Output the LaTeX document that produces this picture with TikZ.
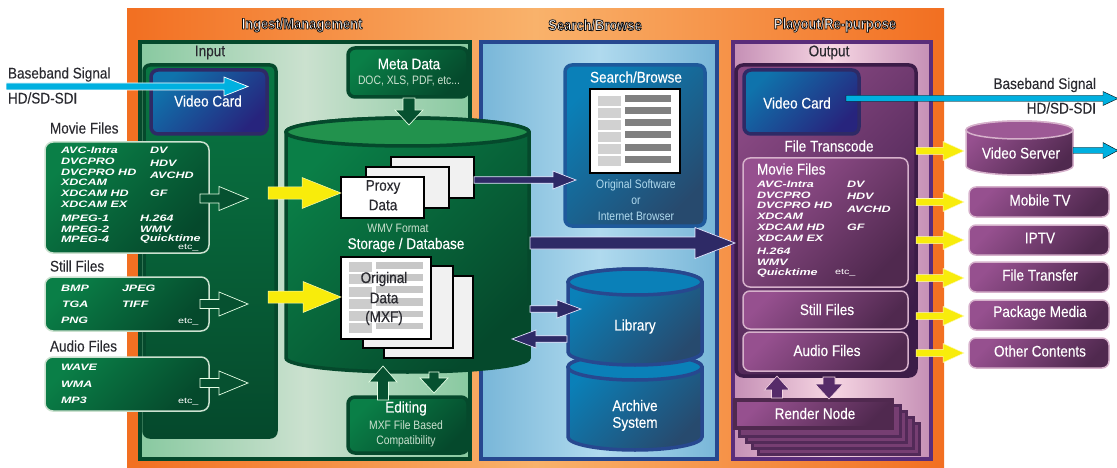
\documentclass[tikz,border=0pt]{standalone}
\usepackage{fontspec}
\usetikzlibrary{calc}
\setmainfont[FakeStretch=0.88,FakeBold=0.25]{Liberation Sans}
\newfontfamily\widefont[FakeStretch=1.35]{Liberation Sans}
\newfontfamily\smallfont[FakeStretch=0.85]{Liberation Sans}
\newfontfamily\titlefont[FakeStretch=0.84]{Liberation Sans}
\definecolor{org}{HTML}{F26F21}\definecolor{orgm}{HTML}{F9B26B}
\definecolor{gdk}{HTML}{05492C}\definecolor{gbr}{HTML}{0A7F47}\definecolor{gpl}{HTML}{88C9A0}\definecolor{gpm}{HTML}{CBE1CF}\definecolor{gtop}{HTML}{22924D}
\definecolor{bbd}{HTML}{27488F}\definecolor{bpl}{HTML}{78B6D8}\definecolor{bpm}{HTML}{B0DAEE}\definecolor{bbr}{HTML}{0A80B8}\definecolor{bdk}{HTML}{274A6E}
\definecolor{pbd}{HTML}{5A2D7A}\definecolor{ppl}{HTML}{C58FB5}\definecolor{ppm}{HTML}{F6D6E3}\definecolor{pbr}{HTML}{96508F}\definecolor{pdk}{HTML}{50294F}\definecolor{pvd}{HTML}{3C1C48}
\definecolor{navy}{HTML}{2E2A66}\definecolor{yel}{HTML}{F8EC0B}\definecolor{cyn}{HTML}{00B0E0}\definecolor{ink}{HTML}{2A2A30}
\newcommand{\lblfont}{\fontsize{15.4}{17}\selectfont}
\newcommand{\smfont}{\smallfont\fontsize{12.2}{14}\selectfont}
\newcommand{\wtfont}{\widefont\bfseries\itshape\fontsize{9.3}{11}\selectfont}
\newcommand{\etcfont}{\widefont\fontsize{8}{9}\selectfont}
\newcommand{\ttlfont}{\titlefont\bfseries\fontsize{15.4}{17}\selectfont}
\newcommand{\outl}[1]{\special{pdf:code 2 Tr 0.7 w 0.05 0.05 0.06 RG}#1\special{pdf:code 0 Tr}}
\tikzset{x=1pt,y=-1pt,inner sep=0pt,outer sep=0pt,
 lbl/.style={font=\lblfont,text=white},
 lbk/.style={font=\lblfont,text=ink},
 ttl/.style={font=\ttlfont,text=white},
 sml/.style={font=\smfont,text=#1},
 wtx/.style={font=\wtfont,text=white,anchor=west},
 etcx/.style={font=\etcfont,text=white,anchor=west},
 gbox/.style={draw=gdk,line width=3.5pt,rounded corners=7pt,top color=gbr,bottom color=gdk,shading angle=45},
 gfile/.style={draw=gpm,line width=1.5pt,rounded corners=8pt,top color=gbr,bottom color=gdk,shading angle=45},
 pbox/.style={draw=#1,line width=1.5pt,rounded corners=7pt,top color=pbr,bottom color=pdk,shading angle=45},
 pbox/.default={ppl!70!white},
 vcard/.style={draw=navy,line width=3.5pt,rounded corners=7pt,top color=bbr!85!navy,bottom color=navy!85!blue,shading angle=45},
 sheet/.style={draw=black,line width=1.5pt,fill=#1},
 hgreen/.style={fill=gdk!85!gbr,draw=white!90!green,line width=.7pt},
 hyel/.style={fill=yel,draw=white!70!yel,line width=.5pt},
 hnavy/.style={fill=navy,draw=white!90!blue,line width=.7pt},
 hcyn/.style={fill=cyn,draw=white,line width=.7pt},
 hcyn2/.style={fill=cyn},
 hpur/.style={fill=pbd!60!pdk,draw=ppm,line width=.6pt},
}
% style, from, to, shaft half, head half, head length
\newcommand{\blockarr}[6]{%
 \coordinate (ba) at ($(#3)!#6!(#2)$);
 \draw[#1,line join=miter] ($(#2)!#4!90:(#3)$) -- ($(ba)!#4!90:(#3)$) -- ($(ba)!#5!90:(#3)$) -- (#3)
   -- ($(ba)!#5!-90:(#3)$) -- ($(ba)!#4!-90:(#3)$) -- ($(#2)!#4!-90:(#3)$) -- cycle;}
% draw options, xl, xr, ytop, ybot, ry, top-face options
\newcommand{\cylinder}[7]{%
 \draw[#1] (#2,#4) -- (#2,#5) arc[start angle=180,end angle=360,x radius={(#3-#2)/2*1pt},y radius=#6pt] -- (#3,#4)
    arc[start angle=0,end angle=180,x radius={(#3-#2)/2*1pt},y radius=#6pt] -- cycle;
 \draw[#7] ({(#2+#3)/2},#4) ellipse[x radius={(#3-#2)/2*1pt},y radius=#6pt];}
% name, style, x1,y1,x2,y2 (centre-line of border)
\newcommand{\boxnode}[7][]{\node[#3,minimum width={(#6-#4)*1pt},minimum height={(#7-#5)*1pt},#1] (#2) at ({(#4+#6)/2},{(#5+#7)/2}) {};}
\begin{document}
\begin{tikzpicture}
\useasboundingbox (0,0) rectangle (1117,468);
% background and panels
\boxnode{bgorg}{left color=org,right color=org,middle color=orgm}{127}{9}{944}{468}
\boxnode{ingest}{draw=gdk,line width=3.5pt,left color=gpl,right color=gpl,middle color=gpm}{140}{42}{470}{459}
\boxnode{search}{draw=bbd,line width=3.5pt,left color=bpl,right color=bpl,middle color=bpm}{481}{42}{717}{459}
\boxnode{playout}{draw=pbd,line width=3.5pt,left color=ppl,right color=ppl,middle color=ppm}{733}{42}{931}{459}
\node[ttl] (t1) at (302,25) {\outl{Ingest/Management}};
\node[ttl] (t2) at (595,25) {\outl{Search/Browse}};
\node[ttl] (t3) at (835,25) {\outl{Playout/Re-purpose}};
\node[lbk] (inlabel) at (210,52.5) {Input};
\node[lbk] (outlabel) at (829,52.5) {Output};
% input column
\boxnode{inbox}{draw=gdk,line width=3.5pt,rounded corners=6pt,top color=gbr!85!gdk,bottom color=gdk}{144}{65}{276}{437}
\boxnode{incard}{vcard}{151}{70}{267}{134}
\node[lbl] (incardt) at (208,101) {Video Card};
\coordinate (bbin0) at (6,86.5);
\coordinate (bbin1) at (248,86.5);
\blockarr{hcyn}{bbin0}{bbin1}{3.5pt}{9.5pt}{24pt}
\node[lbk,anchor=west] (bbl1) at (8,74.5) {Baseband Signal};
\node[lbk,anchor=west] (bbl2) at (8,98) {HD/SD-SDI};
\node[lbk,anchor=west] (mvl) at (50,128) {Movie Files};
\node[lbk,anchor=west] (stl) at (50,266) {Still Files};
\node[lbk,anchor=west] (aul) at (50,346) {Audio Files};
\boxnode{mvbox}{gfile}{45}{142}{209}{253}
\boxnode{stbox}{gfile}{45}{277}{209}{331}
\boxnode{aubox}{gfile}{45}{357}{209}{411}
\foreach \x/\y/\t [count=\i] in {61/150/AVC-Intra,61/161/DVCPRO,61/172/DVCPRO HD,61/182/XDCAM,61/193/XDCAM HD,61/204/XDCAM EX,61/218/MPEG-1,61/229/MPEG-2,61/239/MPEG-4,150/150/DV,150/163/HDV,150/175/AVCHD,150/193/GF,140/218/H.264,140/229/WMV,140/239/Quicktime,61/288/BMP,122/288/JPEG,62/304/TGA,122/304/TIFF,61/320/PNG,61/367/WAVE,61/384/WMA,61/400/MP3}
  \node[wtx] (inw\i) at (\x,\y) {\t};
\foreach \y [count=\i] in {248,322,402} \node[etcx] (inetc\i) at (178,\y) {etc\_};
\foreach \n/\y in {mv/198.5,st/304,au/383} {
  \coordinate (\n s) at (200,\y); \coordinate (\n t) at (248,\y);
  \blockarr{hgreen}{\n s}{\n t}{4.5pt}{12pt}{29pt}
}
% meta and editing
\boxnode{meta}{gbox}{348}{48}{468}{97}
\node[lbl] (metat) at (409,64) {Meta Data};
\node[sml=gpm] (metas) at (409,81) {DOC, XLS, PDF, etc...};
\boxnode{edit}{gbox}{348}{397}{468}{453}
\node[lbl] (editt) at (406,408.5) {Editing};
\node[sml=gpm] (edits1) at (406,425) {MXF File Based};
\node[sml=gpm] (edits2) at (406,441) {Compatibility};
% storage
\cylinder{draw=gdk,line width=3.5pt,top color=gbr,bottom color=gdk,shading angle=45}{286}{529}{132}{358}{14}{draw=gdk,line width=3.5pt,fill=gtop}
\coordinate (mdn0) at (409,98); \coordinate (mdn1) at (409,125);
\blockarr{hgreen}{mdn0}{mdn1}{6pt}{14pt}{15pt}
\coordinate (up0) at (383,400); \coordinate (up1) at (383,366);
\blockarr{hgreen}{up0}{up1}{5.5pt}{14pt}{16pt}
\coordinate (dn0) at (434,372); \coordinate (dn1) at (434,393);
\blockarr{hgreen}{dn0}{dn1}{5pt}{14pt}{15pt}
% proxy sheets
\boxnode{prox3}{sheet=white!89!gray}{391}{157}{474}{198}
\boxnode{prox2}{sheet=white!89!gray}{366}{167}{449}{208}
\boxnode{prox1}{sheet=white}{341}{177}{424}{218}
\node[lbk] (proxt1) at (383,187) {Proxy};
\node[lbk] (proxt2) at (383,205) {Data};
\node[sml=gpm] (wmv) at (398,228) {WMV Format};
\node[lbl] (stor) at (406,245) {Storage / Database};
\boxnode{orig3}{sheet=white!89!gray}{384}{276}{473}{358}
\boxnode{orig2}{sheet=white!89!gray}{363}{266}{453}{348}
\boxnode{orig1}{sheet=white}{341}{257}{431}{339}
\foreach \a/\b in {262/272,274/284,287/297,299/309,311/321,323/333} \fill[black!20] (349,\a) rectangle (372,\b);
\foreach \a/\b in {262/269,274/281,286/293,298/306,311/317,323/329} \fill[black!22] (376,\a) rectangle (423,\b);
\node[lbk] (origt1) at (384,279) {Original};
\node[lbk] (origt2) at (384,298) {Data};
\node[lbk] (origt3) at (384,318) {(MXF)};
% yellow into sheets
\coordinate (yp0) at (268,193); \coordinate (yp1) at (prox1.west|-yp0);
\blockarr{hyel}{yp0}{yp1}{6pt}{15.5pt}{39pt}
\coordinate (yo0) at (268,297); \coordinate (yo1) at (orig1.west|-yo0);
\blockarr{hyel}{yo0}{yo1}{6pt}{15.5pt}{38pt}
% search column
\boxnode{sbox}{draw=bbd!70!bbr,line width=3.5pt,rounded corners=7pt,top color=bbr,bottom color=bdk,shading angle=45}{565}{65}{705}{226}
\node[lbl] (sboxt) at (636,77) {Search/Browse};
\boxnode{sdoc}{sheet=white}{590}{89}{680}{173}
\foreach \a in {96,108,120,132,144,156} \fill[black!18] (598,\a) rectangle (621,\a+10);
\foreach \a in {95,107,119,131,144,156} \fill[black!50!white!90!gray] (625,\a) rectangle (671,\a+7);
\node[sml=bpm] (ss1) at (636,185) {Original Software};
\node[sml=bpm] (ss2) at (636,201) {or};
\node[sml=bpm] (ss3) at (636,216) {Internet Browser};
\coordinate (ps0) at (prox3.east|-0,180); \coordinate (ps1) at (576,180);
\blockarr{hnavy}{ps0}{ps1}{3.2pt}{9pt}{23pt}
\cylinder{draw=bbd,line width=3.5pt,top color=bbr,bottom color=bdk,shading angle=45}{568}{702}{367}{437}{13}{draw=bbd,line width=3.5pt,fill=bbr}
\cylinder{draw=bbd,line width=3.5pt,top color=bbr,bottom color=bdk,shading angle=45}{568}{702}{282}{352}{13}{draw=bbd,line width=3.5pt,fill=bbr}
\node[lbl] (libt) at (635,326.5) {Library};
\node[lbl] (arct1) at (635,405.5) {Archive};
\node[lbl] (arct2) at (635,424) {System};
\coordinate (l0) at (530,309); \coordinate (l1) at (581,309);
\blockarr{hnavy}{l0}{l1}{3.2pt}{9pt}{24pt}
\coordinate (r0) at (567,339); \coordinate (r1) at (512,339);
\blockarr{hnavy}{r0}{r1}{3.2pt}{9pt}{24pt}
% output column
\boxnode{outbox}{draw=pvd,line width=3.5pt,rounded corners=7pt,top color=pbr!80!pdk,bottom color=pvd,shading angle=45}{736}{65}{916}{376}
\boxnode{outcard}{vcard}{744}{70}{859}{134}
\node[lbl] (outcardt) at (797,103) {Video Card};
\node[lbl] (ftrans) at (829,146) {File Transcode};
\boxnode{omv}{pbox}{743}{158}{908}{287}
\node[lbl,anchor=west] (omvt) at (757,169) {Movie Files};
\foreach \x/\y/\t [count=\i] in {757/184/AVC-Intra,757/195/DVCPRO,757/205/DVCPRO HD,757/216/XDCAM,757/227/XDCAM HD,757/238/XDCAM EX,757/251/H.264,757/262/WMV,757/273/Quicktime,847/184/DV,847/196/HDV,847/209/AVCHD,847/227/GF}
  \node[wtx] (outw\i) at (\x,\y) {\t};
\node[etcx] (outetc) at (835,273) {etc\_};
\boxnode{ost}{pbox}{743}{291}{908}{329}
\node[lbl] (ostt) at (827,309.5) {Still Files};
\boxnode{oau}{pbox}{743}{332}{908}{371}
\node[lbl] (oaut) at (827,350.5) {Audio Files};
% render node
\foreach \a/\b/\c/\d [count=\i] in {758/423/919/454,752/417/913/448,746/411/906/442,739/405/900/436}
  \boxnode{rn\i}{draw=pdk!80!pbd,line width=3pt,fill=pbr!55!pdk}{\a}{\b}{\c}{\d}
\boxnode{render}{draw=pdk,line width=3.5pt,top color=pbr,bottom color=pdk,shading angle=45}{735}{400}{892}{428}
\node[lbl] (rendert) at (815,413.5) {Render Node};
\coordinate (rup0) at (777,398); \coordinate (rup1) at (777,376);
\blockarr{hpur}{rup0}{rup1}{5.5pt}{12.5pt}{14pt}
\coordinate (rdn0) at (829,377); \coordinate (rdn1) at (829,399);
\blockarr{hpur}{rdn0}{rdn1}{6pt}{14pt}{15pt}
% right-hand targets
\cylinder{draw=ppl!70!white,line width=1.5pt,top color=pbr,bottom color=pdk,shading angle=45}{966}{1073}{130}{166}{9}{draw=ppl!70!white,line width=1.5pt,fill=pbr!85!ppl}
\node[lbl] (vs) at (1021,153) {Video Server};
\foreach \n/\a/\b/\t in {mob/187/217/Mobile TV,ipt/225/255/IPTV,ftr/262/292/File Transfer,pkg/300/330/Package Media,oth/338/368/Other Contents} {
  \boxnode{\n}{pbox}{969}{\a}{1109}{\b}
  \node[lbl] (\n t) at (1040,{(\a+\b)/2-2}) {\t};
}
\coordinate (y1t) at (964,151);\coordinate (y2t) at (964,202);\coordinate (y3t) at (964,240);\coordinate (y4t) at (964,278);\coordinate (y5t) at (964,316);\coordinate (y6t) at (964,353);
\foreach \i in {1,...,6} {
  \coordinate (y\i s) at (outbox.east|-y\i t);
  \blockarr{hyel}{y\i s}{y\i t}{3.5pt}{9.5pt}{21pt}
}
% outgoing
\coordinate (bbo0) at (846,98.5); \coordinate (bbo1) at (1118,98.5);
\blockarr{hcyn2}{bbo0}{bbo1}{3pt}{7pt}{15pt}
\coordinate (vso0) at (1073,150.5); \coordinate (vso1) at (1118,150.5);
\blockarr{hcyn2}{vso0}{vso1}{3pt}{8pt}{15pt}
\node[lbk,anchor=east] (bbr1) at (1096,85) {Baseband Signal};
\node[lbk,anchor=east] (bbr2) at (1096,108) {HD/SD-SDI};
% big arrow storage to output
\coordinate (big0) at (530,243); \coordinate (big1) at (735,243);
\blockarr{hnavy}{big0}{big1}{6pt}{15.5pt}{40pt}
\end{tikzpicture}
\end{document}
